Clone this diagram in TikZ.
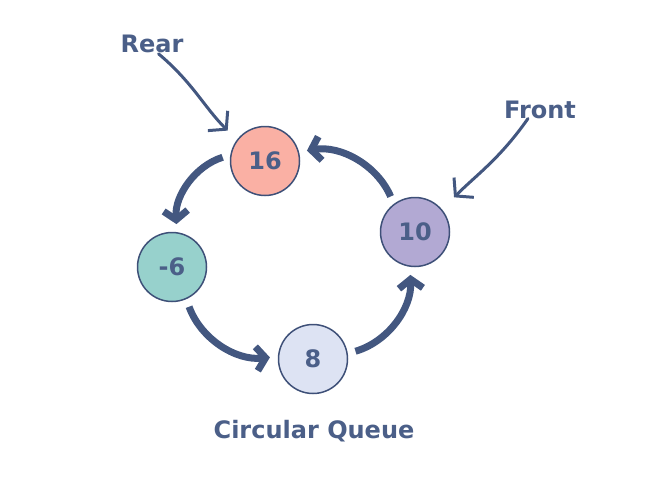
\documentclass[tikz,border=0pt]{standalone}
\usepackage{fontspec}
\setmainfont{DejaVu Sans}
\usetikzlibrary{arrows.meta}

\definecolor{qtext}{HTML}{4B5F88}
\definecolor{qline}{HTML}{435780}
\definecolor{qrim}{HTML}{3E5078}
\definecolor{qred}{HTML}{FAB0A4}
\definecolor{qteal}{HTML}{97D1CC}
\definecolor{qpale}{HTML}{DDE3F3}
\definecolor{qlilac}{HTML}{B2A9D3}

\tikzset{
  cell/.style={circle,draw=qrim,line width=1.5pt,minimum size=69pt,inner sep=0pt,
    text=qtext,font=\bfseries\fontsize{24}{28}\selectfont},
  tag/.style={anchor=base,inner sep=0pt,text=qtext,font=\bfseries\fontsize{24}{28}\selectfont},
  loop/.style={draw=qline,line width=7pt,-{Straight Barb[length=9pt,width=24pt]},
    shorten <=8pt,shorten >=8pt},
  ptr/.style={draw=qline,line width=3pt,line cap=round,
    -{Straight Barb[length=12pt,width=28pt]}}
}

\begin{document}
\begin{tikzpicture}[x=1pt,y=1pt]
\useasboundingbox (0,0) rectangle (666,-488);
% queue cells
\node [cell,fill=qred] (n16) at (265,-161) {16};
\node [cell,fill=qteal] (m6) at (172,-267) {-6};
\node [cell,fill=qpale] (n8) at (313,-359) {8};
\node [cell,fill=qlilac] (n10) at (415,-232) {10};
% labels
\node [tag] (rear) at (152,-52) {Rear};
\node [tag] (front) at (540,-118) {Front};
\node [tag] (title) at (314,-438) {Circular Queue};
% links round the ring
\draw [loop] (n16.170) to[bend right=38] (m6.82);
\draw [loop] (m6.294) to[bend right=38] (n8.176);
\draw [loop] (n8.9) to[bend right=38] (n10.262);
\draw [loop] (n10.127) to[bend right=38] (n16.15);
% pointers
\draw [ptr,shorten <=2pt,shorten >=13pt] ([xshift=5pt]rear.south) to[out=-40,in=135] (n16.143);
\draw [ptr,shorten >=17pt] ([xshift=-12pt]front.south) to[out=-125,in=45] (n10.40);
\end{tikzpicture}
\end{document}
